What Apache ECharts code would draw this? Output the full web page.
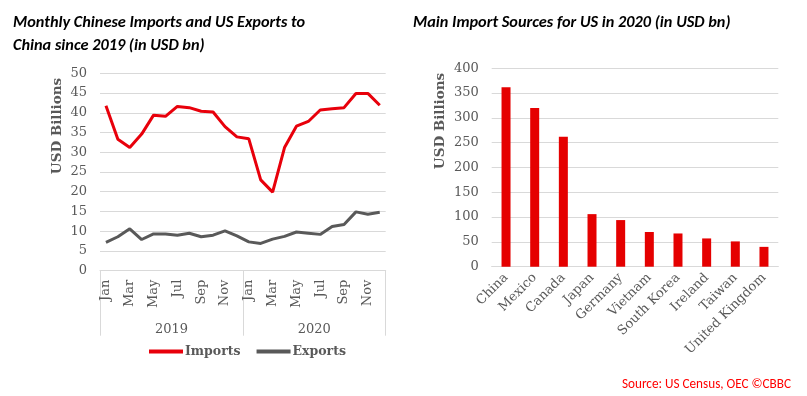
<!DOCTYPE html>
<html><head><meta charset="utf-8">
<script src="https://cdn.jsdelivr.net/npm/echarts@6/dist/echarts.min.js"></script>
<style>html,body{margin:0;padding:0;background:#fff}#c{width:807px;height:396px}</style>
</head><body><div id="c"></div>
<script>
var months = ['Jan','Feb','Mar','Apr','May','Jun','Jul','Aug','Sep','Oct','Nov','Dec',
              'Jan','Feb','Mar','Apr','May','Jun','Jul','Aug','Sep','Oct','Nov','Dec'];
var years = ['2019','2020'];
var imports = [41.8,33.3,31.2,34.6,39.4,39.1,41.6,41.3,40.4,40.2,36.5,33.9,
               33.4,23.0,19.9,31.2,36.6,37.8,40.7,41.0,41.3,44.9,44.9,41.9];
var exports = [7.2,8.6,10.6,7.9,9.3,9.3,9.0,9.5,8.6,9.0,10.1,8.8,
               7.3,6.9,8.0,8.7,9.8,9.5,9.2,11.2,11.7,14.9,14.3,14.8];
var countries = ['China','Mexico','Canada','Japan','Germany','Vietnam','South Korea','Ireland','Taiwan','United Kingdom'];
var sources = [362,320,262,106,94,70,67,57,51,40];
var leftTicks = {min:0,max:50,interval:5};
var rightTicks = {min:0,max:400,interval:50};

var SERIF = '"DejaVu Serif", "Liberation Serif", serif';
var TITLE = 'Carlito, "Liberation Sans Narrow", "Open Sans", sans-serif';
var GREY = '#595959', GRID = '#d9d9d9', RED = '#e8000b';

var chart = echarts.init(document.getElementById('c'));
chart.setOption({
  animation:false,
  title:[
    {text:'Monthly Chinese Imports and US Exports to\nChina since 2019 (in USD bn)', left:8, top:6,
     textStyle:{fontFamily:TITLE,fontSize:16.3,fontWeight:'bold',fontStyle:'italic',color:'#000',lineHeight:23}},
    {text:'Main Import Sources for US in 2020 (in USD bn)', left:408, top:6,
     textStyle:{fontFamily:TITLE,fontSize:16.3,fontWeight:'bold',fontStyle:'italic',color:'#000',lineHeight:23}},
    {text:'Source: US Census, OEC ©CBBC', right:11, top:373,
     textStyle:{fontFamily:TITLE,fontSize:13.2,fontWeight:'normal',color:'#ff0000'}}
  ],
  legend:{data:['Imports','Exports'], left:144, top:340, icon:'rect', itemWidth:34, itemHeight:4, itemGap:16,
    textStyle:{fontFamily:SERIF,fontSize:12.5,fontWeight:'bold',color:GREY,padding:[0,0,0,-3]}},
  grid:[
    {left:100, top:73.3, width:285.7, height:197.4},
    {left:491.7, top:68.3, width:286.6, height:198.4}
  ],
  xAxis:[
    {gridIndex:0, type:'category', data:months, position:'bottom',
     axisLine:{lineStyle:{color:GRID}}, axisTick:{show:false},
     axisLabel:{interval:1, rotate:90, margin:9, fontFamily:SERIF, fontSize:13, color:GREY}},
    {gridIndex:0, type:'category', data:years, position:'bottom', offset:0,
     axisLine:{show:false}, axisTick:{show:true, length:65, lineStyle:{color:GRID}},
     axisLabel:{margin:52, fontFamily:SERIF, fontSize:13, color:GREY}},
    {gridIndex:1, type:'category', data:countries,
     axisLine:{lineStyle:{color:GRID}}, axisTick:{show:false},
     axisLabel:{interval:0, rotate:45, margin:9, fontFamily:SERIF, fontSize:13, color:GREY}}
  ],
  yAxis:[
    {gridIndex:0, type:'value', min:leftTicks.min, max:leftTicks.max, interval:leftTicks.interval,
     axisLine:{show:false}, axisTick:{show:false}, splitLine:{lineStyle:{color:GRID}},
     axisLabel:{margin:13, fontFamily:SERIF, fontSize:13, color:GREY}},
    {gridIndex:1, type:'value', min:rightTicks.min, max:rightTicks.max, interval:rightTicks.interval,
     axisLine:{show:false}, axisTick:{show:false}, splitLine:{lineStyle:{color:GRID}},
     axisLabel:{margin:13, fontFamily:SERIF, fontSize:13, color:GREY}}
  ],
  graphic:[
    {type:'text', x:57, y:126, rotation:Math.PI/2,
     style:{text:'USD Billions', fontFamily:SERIF, fontSize:13.5, fontWeight:'bold', fill:GREY, align:'center', verticalAlign:'middle'}},
    {type:'text', x:440, y:121, rotation:Math.PI/2,
     style:{text:'USD Billions', fontFamily:SERIF, fontSize:13.5, fontWeight:'bold', fill:GREY, align:'center', verticalAlign:'middle'}}
  ],
  series:[
    {name:'Imports', type:'line', xAxisIndex:0, yAxisIndex:0, data:imports, symbol:'none',
     lineStyle:{width:3, color:RED}, itemStyle:{color:RED}},
    {name:'Exports', type:'line', xAxisIndex:0, yAxisIndex:0, data:exports, symbol:'none',
     lineStyle:{width:3, color:GREY}, itemStyle:{color:GREY}},
    {name:'Sources', type:'bar', xAxisIndex:2, yAxisIndex:1, data:sources, barWidth:9,
     itemStyle:{color:'#e50000'}}
  ]
});
</script></body></html>
